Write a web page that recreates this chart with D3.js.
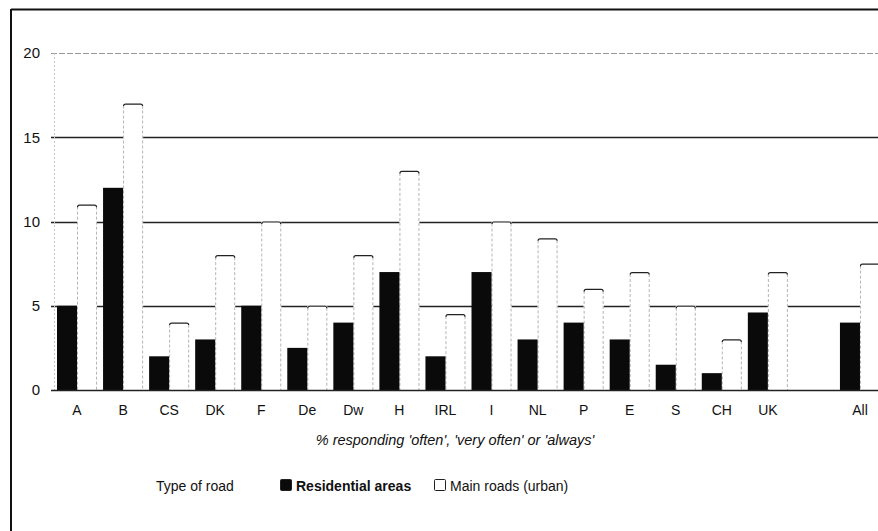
<!DOCTYPE html>
<html>
<head>
<meta charset="utf-8">
<script src="https://cdn.jsdelivr.net/npm/d3@7"></script>
<style>
  html, body { margin: 0; padding: 0; background: #fff; }
  svg { display: block; font-family: "Liberation Sans", Arial, sans-serif; }
</style>
</head>
<body>
<svg id="chart" width="878" height="531"></svg>
<script>
// ---- data ----
const categories = ["A","B","CS","DK","F","De","Dw","H","IRL","I","NL","P","E","S","CH","UK","All"];
const residential = [5, 12, 2, 3, 5, 2.5, 4, 7, 2, 7, 3, 4, 3, 1.5, 1, 4.6, 4];
const mainRoads   = [11, 17, 4, 8, 10, 5, 8, 13, 4.5, 10, 9, 6, 7, 5, 3, 7, 7.5];
const seriesNames = ["Residential areas", "Main roads (urban)"];
const yTicks = [0, 5, 10, 15, 20];
const xTitle = "% responding 'often', 'very often' or 'always'";
const legendTitle = "Type of road";
const spacerKey = "__gap__";

// ---- layout ----
const svg = d3.select("#chart");
const W = 878, H = 531;

// domain with an empty slot before "All"
const domain = categories.slice(0, 16).concat([spacerKey], categories.slice(16));
const x0 = d3.scaleBand().domain(domain).range([54, 883]).padding(0);
const x1 = d3.scaleBand().domain(seriesNames).range([0, x0.bandwidth()]).paddingInner(0).paddingOuter(0.15);
const y = d3.scaleLinear().domain([0, 20]).range([390, 53]);

// frame (top + left edges visible)
svg.append("line").attr("x1", 11).attr("x2", W).attr("y1", 9.5).attr("y2", 9.5)
  .attr("stroke", "#111").attr("stroke-width", 2);
svg.append("line").attr("x1", 11).attr("x2", 11).attr("y1", 9).attr("y2", H)
  .attr("stroke", "#111").attr("stroke-width", 2);

// gridlines
const grid = svg.append("g");
grid.selectAll("line").data(yTicks.filter(d => d > 0)).join("line")
  .attr("x1", 51).attr("x2", W)
  .attr("y1", d => Math.round(y(d)) + 0.5).attr("y2", d => Math.round(y(d)) + 0.5)
  .attr("stroke", d => d === 20 ? "#9a9a9a" : "#222")
  .attr("stroke-width", d => d === 20 ? 1 : 1.3)
  .attr("stroke-dasharray", d => d === 20 ? "6,2" : null);

// faint left axis line
svg.append("line").attr("x1", 54.5).attr("x2", 54.5).attr("y1", y(20)).attr("y2", y(0))
  .attr("stroke", "#c4c4c4").attr("stroke-dasharray", "2,2");

// y tick labels
const yAxis = d3.axisLeft(y).tickValues(yTicks).tickSize(0).tickPadding(0);
const yg = svg.append("g").attr("transform", "translate(40,0)").call(yAxis);
yg.select(".domain").remove();
yg.selectAll("text").attr("font-size", 15).attr("fill", "#111")
  .attr("font-family", "Liberation Sans, Arial, sans-serif");

// bars
const rows = categories.map((c, i) => ({ cat: c, vals: [residential[i], mainRoads[i]] }));
const groups = svg.append("g").selectAll("g").data(rows).join("g")
  .attr("transform", d => `translate(${x0(d.cat)},0)`);

// main roads (white) bars
groups.each(function(d) {
  const g = d3.select(this);
  const v = d.vals[1];
  const bx = x1(seriesNames[1]), bw = x1.bandwidth();
  g.append("rect").attr("x", bx).attr("y", y(v)).attr("width", bw).attr("height", y(0) - y(v))
    .attr("fill", "#fff");
  // dotted sides
  g.append("line").attr("x1", bx + 0.5).attr("x2", bx + 0.5).attr("y1", y(v) + 2).attr("y2", y(0))
    .attr("stroke", "#b4b4b4").attr("stroke-dasharray", "3,2");
  g.append("line").attr("x1", bx + bw - 0.5).attr("x2", bx + bw - 0.5).attr("y1", y(v) + 2).attr("y2", y(0))
    .attr("stroke", "#b4b4b4").attr("stroke-dasharray", "3,2");
  // top edge
  g.append("path")
    .attr("d", `M${bx + 0.5},${y(v) + 2.5} Q${bx + 0.5},${y(v) + 0.5} ${bx + 2.5},${y(v) + 0.5} L${bx + bw - 2.5},${y(v) + 0.5} Q${bx + bw - 0.5},${y(v) + 0.5} ${bx + bw - 0.5},${y(v) + 2.5}`)
    .attr("fill", "none").attr("stroke", "#222").attr("stroke-width", 1.2);
});

// residential (black) bars
groups.append("rect")
  .attr("x", x1(seriesNames[0])).attr("y", d => y(d.vals[0]))
  .attr("width", x1.bandwidth()).attr("height", d => y(0) - y(d.vals[0]))
  .attr("fill", "#0a0a0a");

// baseline
svg.append("line").attr("x1", 51).attr("x2", W).attr("y1", y(0) + 0.5).attr("y2", y(0) + 0.5)
  .attr("stroke", "#222").attr("stroke-width", 1.5);

// x axis labels
const xAxis = d3.axisBottom(x0).tickSize(0).tickPadding(0)
  .tickFormat(d => d === spacerKey ? "" : d);
const xg = svg.append("g").attr("transform", "translate(0,405)").call(xAxis);
xg.select(".domain").remove();
xg.selectAll("text").attr("font-size", 14).attr("fill", "#111")
  .attr("font-family", "Liberation Sans, Arial, sans-serif");

// x title
svg.append("text").attr("x", 455).attr("y", 445).attr("text-anchor", "middle")
  .attr("font-size", 14.5).attr("font-style", "italic").attr("fill", "#111")
  .text(xTitle);

// legend
const ly = 491;
const legend = svg.append("g");
legend.append("text").attr("x", 156).attr("y", ly).attr("font-size", 14).attr("fill", "#111").text(legendTitle);
const legendItems = [
  { name: seriesNames[0], fill: "#0a0a0a", x: 280, bold: true },
  { name: seriesNames[1], fill: "#fff", x: 434, bold: false }
];
legendItems.forEach(it => {
  legend.append("rect").attr("x", it.x + 0.5).attr("y", ly - 11.5).attr("width", 11).attr("height", 11)
    .attr("fill", it.fill).attr("stroke", "#222").attr("stroke-width", 1).attr("rx", 1);
  legend.append("text").attr("x", it.x + 16).attr("y", ly).attr("font-size", 14)
    .attr("font-weight", it.bold ? "bold" : "normal").attr("fill", "#111").text(it.name);
});
</script>
</body>
</html>
